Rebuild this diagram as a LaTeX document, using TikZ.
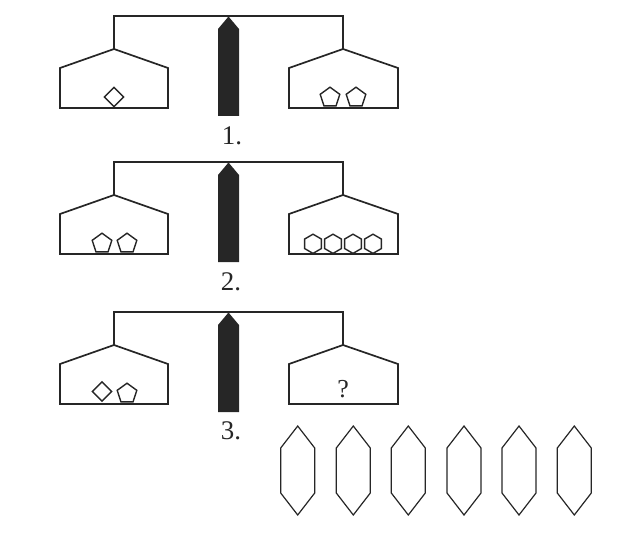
\documentclass[tikz,border=0pt]{standalone}
\usepackage{fontspec}
\setmainfont{Liberation Serif}
\definecolor{ink}{HTML}{262626}
\tikzset{
  ln/.style={draw=ink, line width=1.7bp, line join=miter},
  thin/.style={draw=ink, line width=1.4bp, line join=miter},
  balance/.pic={
    \draw[ln] (114,49) -- (114,16) -- (343,16) -- (343,49);
    \draw[ln] (60,108) -- (60,68) -- (114,49) -- (168,68) -- (168,108) -- cycle;
    \draw[ln] (289,108) -- (289,68) -- (343,49) -- (398,68) -- (398,108) -- cycle;
    \fill[ink] (218,116) -- (218,29) -- (228.5,16.5) -- (239,29) -- (239,116) -- cycle;
  },
  diam/.pic={\draw[thin] (0,-9.6) -- (9.6,0) -- (0,9.6) -- (-9.6,0) -- cycle;},
  pent/.pic={\draw[thin] (-90:10.3) -- (-162:10.3) -- (-234:10.3) -- (-306:10.3) -- (-18:10.3) -- cycle;},
  hexa/.pic={\draw[thin] (90:9.6) -- (150:9.6) -- (210:9.6) -- (270:9.6) -- (330:9.6) -- (30:9.6) -- cycle;},
  tall/.pic={\draw[draw=ink, line width=1.2bp, line join=miter] (0,-44.5) -- (17,-22.5) -- (17,22.5) -- (0,44.5) -- (-17,22.5) -- (-17,-22.5) -- cycle;},
  num/.style={font=\fontsize{27}{27}\selectfont, text=ink, inner sep=0pt}
}
\begin{document}
\begin{tikzpicture}[x=1bp, y=-1bp]
\useasboundingbox (0,0) rectangle (620,544);
% panel 1
\begin{scope}[yshift=0bp]
  \pic {balance};
  \pic at (114,97) {diam};
  \pic at (330,97.5) {pent};
  \pic at (356,97.5) {pent};
  \node[num] (lab1) at (232,135.5) {1.};
\end{scope}
% panel 2
\begin{scope}[yshift=-146bp]
  \pic {balance};
  \pic at (102,97.5) {pent};
  \pic at (127,97.5) {pent};
  \pic at (313,97.8) {hexa};
  \pic at (333,97.8) {hexa};
  \pic at (353,97.8) {hexa};
  \pic at (373,97.8) {hexa};
  \node[num] (lab2) at (231,135.5) {2.};
\end{scope}
% panel 3
\begin{scope}[yshift=-296bp]
  \pic {balance};
  \pic at (102,95.5) {diam};
  \pic at (127,97.5) {pent};
  \node[font=\fontsize{26}{26}\selectfont, text=ink, inner sep=0pt] (q) at (343,93.5) {?};
  \node[num] (lab3) at (231,135) {3.};
\end{scope}
% answer options
\foreach \x [count=\i] in {297.7,353.3,408.3,464,519,574.3}
  \pic at (\x,470.5) {tall};
\end{tikzpicture}
\end{document}
